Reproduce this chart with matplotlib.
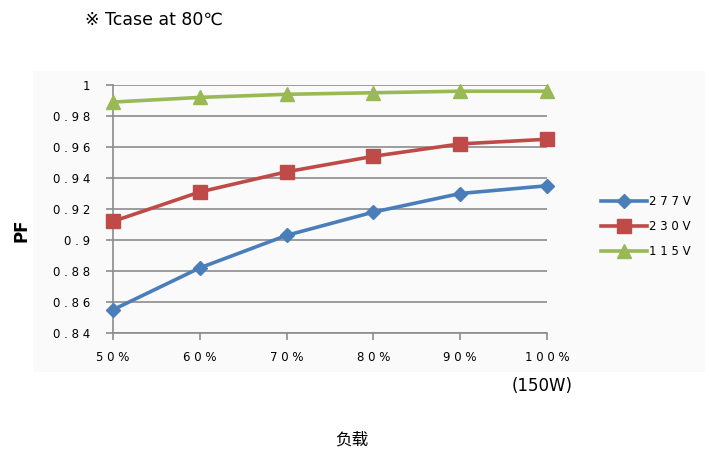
import matplotlib.pyplot as plt
from matplotlib.patches import Rectangle

plt.rcParams['font.family'] = ['DejaVu Sans', 'Noto Sans CJK SC']

loads = ['50%', '60%', '70%', '80%', '90%', '100%']
pf_277 = [0.855, 0.882, 0.903, 0.918, 0.930, 0.935]
pf_230 = [0.912, 0.931, 0.944, 0.954, 0.962, 0.965]
pf_115 = [0.989, 0.992, 0.994, 0.995, 0.996, 0.996]
y_ticks = [0.84, 0.86, 0.88, 0.90, 0.92, 0.94, 0.96, 0.98, 1.0]


def spaced(s, gap=' '):
    return gap.join(list(s))


fig = plt.figure(figsize=(7.09, 4.54), dpi=100)
# faint grey panel behind the chart
fig.patches.append(Rectangle((33 / 709, 1 - 372 / 454), 672 / 709, 301 / 454,
                             transform=fig.transFigure, facecolor='#fafafa',
                             edgecolor='none', zorder=-5))
ax = fig.add_axes([113 / 709, 1 - 333 / 454, 434 / 709, 248 / 454])
ax.patch.set_alpha(0)

x = list(range(len(loads)))
series = [
    (pf_277, '#4a7ebb', 'D', 7, '277V'),
    (pf_230, '#be4b48', 's', 10, '230V'),
    (pf_115, '#98b954', '^', 10, '115V'),
]
for vals, col, mk, ms, lab in series:
    ax.plot(x, vals, color=col, lw=2.6, marker=mk, markersize=ms,
            markeredgecolor=col, label=spaced(lab), clip_on=False, zorder=3)

ax.set_xlim(0, 5)
ax.set_ylim(0.84, 1.0)
ax.set_yticks(y_ticks)
ylabels = []
for v in y_ticks:
    txt = '1' if v == 1.0 else ('%.2f' % v).rstrip('0')
    ylabels.append(spaced(txt))
ax.set_yticklabels(ylabels, fontsize=8.5)
ax.set_xticks(x)
ax.set_xticklabels([spaced(l) for l in loads], fontsize=8.5)
ax.grid(axis='y', color='#8c8c8c', lw=1.2)
for s in ['top', 'right']:
    ax.spines[s].set_visible(False)
for s in ['left', 'bottom']:
    ax.spines[s].set_color('#8c8c8c')
    ax.spines[s].set_linewidth(1.2)
ax.tick_params(axis='both', color='#8c8c8c', length=5, width=1.2)
ax.tick_params(axis='y', pad=11.5)
ax.tick_params(axis='x', pad=8)

ax.set_ylabel('PF', fontsize=12, fontweight='bold')
ax.yaxis.set_label_coords(-0.191, 0.415)

leg = ax.legend(loc='center left', bbox_to_anchor=(1.10, 0.43), frameon=False,
                fontsize=8.5, handlelength=3.9, handletextpad=0.2, labelspacing=1.0)

fig.text(85 / 709, 1 - 20 / 454, '※ Tcase at 80℃', fontsize=12.5,
         family=['DejaVu Sans', 'Noto Sans CJK SC'], va='center', ha='left')
fig.text(542 / 709, 1 - 386 / 454, '(150W)', fontsize=12, va='center', ha='center')
fig.text(352 / 709, 1 - 440 / 454, '负载', fontsize=12,
         family=['Noto Sans CJK SC'], va='center', ha='center')

fig.savefig('out.png', dpi=100)
